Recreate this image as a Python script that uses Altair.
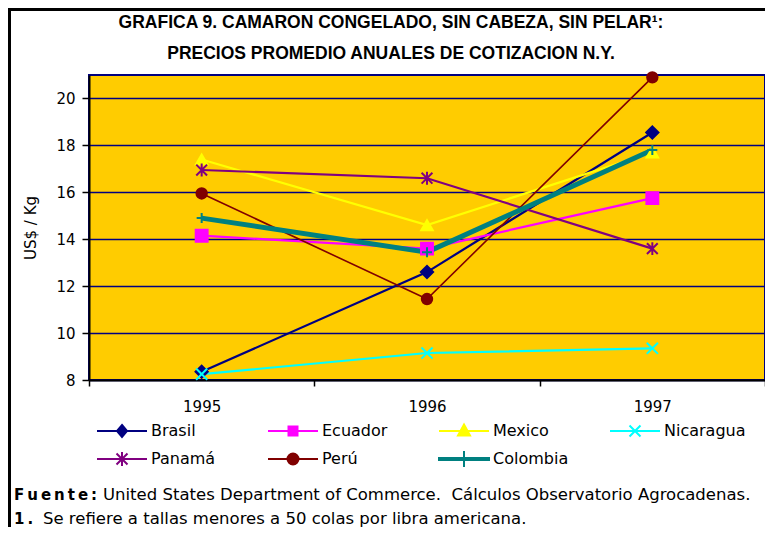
import altair as alt
import pandas as pd

years = ["1995", "1996", "1997"]
series = ["Brasil", "Ecuador", "Mexico", "Nicaragua", "Panamá", "Perú", "Colombia"]
brasil = [8.35, 12.6, 18.55]
ecuador = [14.15, 13.6, 15.75]
mexico = [17.4, 14.6, 17.7]
nicaragua = [8.25, 9.15, 9.35]
panama = [16.95, 16.6, 13.6]
peru = [15.95, 11.45, 20.9]
colombia = [14.9, 13.45, 17.8]

colors = ["#000080", "#FF00FF", "#FFFF00", "#00FFFF", "#800080", "#800000", "#008080"]
shapes = [
    "diamond",
    "square",
    "triangle-up",
    "M-1,-1L1,1M-1,1L1,-1",
    "M-1,-1L1,1M-1,1L1,-1M0,-1.2L0,1.2",
    "circle",
    "M-1,0L1,0M0,-1L0,1",
]
sizes = [150, 100, 150, 150, 160, 150, 380]
legend_shapes = [
    "M-1,0L1,0M0,-0.24L0.2,0L0,0.24L-0.2,0Z",
    "M-1,0L1,0M-0.18,-0.18L0.18,-0.18L0.18,0.18L-0.18,0.18Z",
    "M-1,0L1,0M0,-0.26L0.24,0.18L-0.24,0.18Z",
    "M-1,0L1,0M-0.22,-0.22L0.22,0.22M-0.22,0.22L0.22,-0.22",
    "M-1,0L1,0M-0.22,-0.22L0.22,0.22M-0.22,0.22L0.22,-0.22M0,-0.28L0,0.28",
    "M-1,0L1,0M-0.22,0A0.22,0.22,0,1,0,0.22,0A0.22,0.22,0,1,0,-0.22,0Z",
    "M-1,-0.04L1,-0.04L1,0.04L-1,0.04ZM0,-0.32L0,0.32",
]

title_lines = [
    "GRAFICA 9. CAMARON CONGELADO, SIN CABEZA, SIN PELAR\u00b9:",
    "PRECIOS PROMEDIO ANUALES DE COTIZACION N.Y.",
]
footer_bold = ["F\u2009u\u2009e\u2009n\u2009t\u2009e\u2009:", "1\u2009."]
footer_text = [
    "United States Department of Commerce.\u00a0 Cálculos Observatorio Agrocadenas.",
    "Se refiere a tallas menores a 50 colas por libra americana.",
]

vals = [brasil, ecuador, mexico, nicaragua, panama, peru, colombia]
rows = []
for s, v in zip(series, vals):
    for y, val in zip(years, v):
        rows.append({"series": s, "year": y, "value": val})
df = pd.DataFrame(rows)

FONT = "DejaVu Sans"
TFONT = "Liberation Sans Narrow, Liberation Sans, sans-serif"

x_enc = alt.X(
    "year:O",
    scale=alt.Scale(type="band", domain=years, paddingInner=0, paddingOuter=0),
    axis=alt.Axis(
        title=None, labelAngle=0, tickBand="extent", grid=False,
        domainColor="black", domainWidth=2, tickColor="black", tickWidth=1.5,
        tickSize=6, labelPadding=13, labelFontSize=15, labelFont=FONT,
        labelColor="black",
    ),
)
y_enc = alt.Y(
    "value:Q",
    scale=alt.Scale(domain=[8, 21], nice=False, zero=False),
    axis=alt.Axis(
        values=[8, 10, 12, 14, 16, 18, 20], title="US$ / Kg", grid=True,
        gridColor="#000080", gridWidth=1.5, domainColor="black", domainWidth=2,
        tickColor="black", tickWidth=1.5, tickSize=7, labelPadding=7,
        labelFontSize=15, labelFont=FONT, labelColor="black",
        titleFont=FONT, titleFontSize=15, titleFontWeight="normal",
        titleColor="black", titlePadding=17,
    ),
)

base = alt.Chart(df)

lines = base.mark_line().encode(
    x=x_enc, y=y_enc,
    color=alt.Color("series:N", scale=alt.Scale(domain=series, range=colors), legend=None),
    strokeWidth=alt.when(alt.datum.series == "Colombia").then(alt.value(5))
    .when(alt.datum.series == "Perú").then(alt.value(1.6))
    .otherwise(alt.value(2.2)),
    order=alt.Order("year:O"),
)

points = base.mark_point(filled=True, strokeWidth=2, opacity=1).encode(
    x=x_enc, y=y_enc,
    fill=alt.Fill("series:N", scale=alt.Scale(domain=series, range=colors), legend=None),
    stroke=alt.Stroke("series:N", scale=alt.Scale(domain=series, range=colors), legend=None),
    shape=alt.Shape("series:N", scale=alt.Scale(domain=series, range=shapes), legend=None),
    size=alt.Size("series:N", scale=alt.Scale(domain=series, range=sizes), legend=None),
)

leg = alt.Legend(
    title=None, orient="none", legendX=7, legendY=346, direction="horizontal",
    columns=4, symbolSize=2500, symbolStrokeWidth=2, labelFont=FONT,
    labelFontSize=16, labelColor="black", labelOffset=3, rowPadding=8,
    clipHeight=20, columnPadding=34, gridAlign="all", symbolOpacity=1,
)
legend_layer = base.mark_point(filled=True, strokeWidth=2, opacity=1).encode(
    x=x_enc, y=y_enc,
    fill=alt.Fill("series:N", scale=alt.Scale(domain=series, range=colors), legend=leg),
    stroke=alt.Stroke("series:N", scale=alt.Scale(domain=series, range=colors), legend=leg),
    shape=alt.Shape("series:N", scale=alt.Scale(domain=series, range=legend_shapes), legend=leg),
).transform_filter("false")

tt = pd.DataFrame({"t": title_lines, "yy": [-52, -21]})
title_marks = alt.Chart(tt).mark_text(
    font=TFONT, fontSize=17.5, fontWeight="bold", align="center", baseline="middle", color="black"
).encode(text="t:N", x=alt.value(302), y=alt.Y("yy:Q", scale=None))

fb = pd.DataFrame({"t": footer_bold, "yy": [420, 444]})
ft = pd.DataFrame({"t": footer_text, "xx": [14, -46], "yy": [420, 444]})
foot_bold = alt.Chart(fb).mark_text(
    font=FONT, fontSize=15, fontWeight="bold", align="left", baseline="middle", color="black"
).encode(text="t:N", x=alt.value(-75), y=alt.Y("yy:Q", scale=None))
foot_text = alt.Chart(ft).mark_text(
    font=FONT, fontSize=16.5, align="left", baseline="middle", color="black"
).encode(text="t:N", x=alt.X("xx:Q", scale=None), y=alt.Y("yy:Q", scale=None))

frame_v = alt.Chart(pd.DataFrame({"k": [0]})).mark_rule(color="black", strokeWidth=3).encode(
    x=alt.value(-79.5), y=alt.value(-66), y2=alt.value(460)
)
frame_h = alt.Chart(pd.DataFrame({"k": [0]})).mark_rule(color="black", strokeWidth=3).encode(
    x=alt.value(-81), x2=alt.value(680), y=alt.value(-65.5)
)

chart = alt.layer(
    lines, points, legend_layer, title_marks, foot_bold, foot_text, frame_v, frame_h
).resolve_scale(
    shape="independent", fill="independent", stroke="independent"
).properties(
    width=676, height=305,
    autosize=alt.AutoSizeParams(type="none"),
    padding={"left": 81, "top": 67, "right": 0, "bottom": 147},
    background="white",
).configure_view(
    fill="#FFCC00", stroke="#000080", strokeWidth=2
)

chart.save("out.html", embed_options={"renderer": "svg", "actions": False})
